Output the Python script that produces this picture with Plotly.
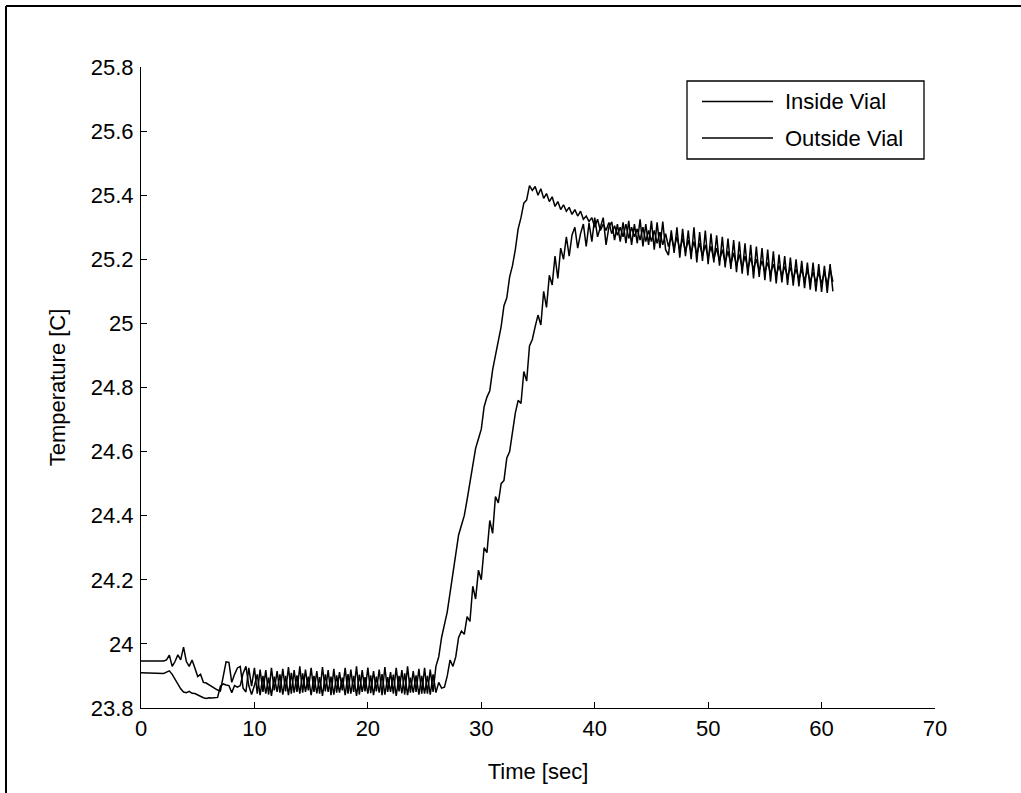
import plotly.graph_objects as go

# sampled every 0.25 s, starting at t = 0
TIME_STEP = 0.25

inside_vial = [
    # 0 - 4.75 s
    23.947, 23.947, 23.947, 23.947, 23.947, 23.947, 23.947, 23.947, 23.947, 23.950,
    23.965, 23.930, 23.945, 23.966, 23.950, 23.990, 23.945, 23.930, 23.950, 23.925,
    # 5 - 9.75 s
    23.898, 23.905, 23.880, 23.878, 23.872, 23.868, 23.862, 23.856, 23.853, 23.905,
    23.944, 23.942, 23.880, 23.905, 23.925, 23.930, 23.862, 23.850, 23.925, 23.868,
    # 10 - 14.75 s
    23.925, 23.845, 23.920, 23.850, 23.918, 23.842, 23.925, 23.855, 23.915, 23.848,
    23.922, 23.852, 23.928, 23.845, 23.918, 23.850, 23.930, 23.848, 23.920, 23.855,
    # 15 - 19.75 s
    23.925, 23.850, 23.915, 23.845, 23.928, 23.852, 23.918, 23.840, 23.922, 23.848,
    23.912, 23.855, 23.925, 23.845, 23.920, 23.850, 23.930, 23.842, 23.918, 23.852,
    # 20 - 24.75 s
    23.926, 23.846, 23.915, 23.852, 23.920, 23.840, 23.928, 23.850, 23.912, 23.845,
    23.925, 23.852, 23.918, 23.842, 23.930, 23.848, 23.915, 23.850, 23.922, 23.845,
    # 25 - 29.75 s
    23.925, 23.845, 23.920, 23.850, 23.930, 23.960, 24.020, 24.060, 24.100, 24.160,
    24.220, 24.270, 24.340, 24.370, 24.400, 24.450, 24.500, 24.560, 24.610, 24.640,
    # 30 - 34.75 s
    24.670, 24.740, 24.770, 24.790, 24.855, 24.900, 24.940, 24.990, 25.055, 25.080,
    25.145, 25.180, 25.230, 25.295, 25.330, 25.375, 25.385, 25.430, 25.415, 25.427,
    # 35 - 39.75 s
    25.400, 25.420, 25.390, 25.405, 25.380, 25.395, 25.365, 25.380, 25.355, 25.370,
    25.350, 25.362, 25.340, 25.355, 25.335, 25.350, 25.325, 25.335, 25.318, 25.330,
    # 40 - 44.75 s
    25.300, 25.325, 25.290, 25.310, 25.290, 25.315, 25.280, 25.305, 25.275, 25.300,
    25.270, 25.310, 25.265, 25.300, 25.270, 25.295, 25.260, 25.300, 25.255, 25.290,
    # 45 - 49.75 s
    25.255, 25.290, 25.250, 25.285, 25.245, 25.280, 25.240, 25.270, 25.235, 25.270,
    25.230, 25.265, 25.225, 25.260, 25.220, 25.255, 25.215, 25.250, 25.210, 25.245,
    # 50 - 54.75 s
    25.205, 25.240, 25.200, 25.235, 25.195, 25.230, 25.190, 25.225, 25.185, 25.220,
    25.180, 25.215, 25.175, 25.210, 25.170, 25.205, 25.168, 25.200, 25.165, 25.195,
    # 55 - 59.75 s
    25.160, 25.190, 25.155, 25.185, 25.150, 25.180, 25.148, 25.178, 25.145, 25.175,
    25.140, 25.170, 25.138, 25.168, 25.135, 25.165, 25.130, 25.160, 25.128, 25.158,
    # 60 - 61 s
    25.125, 25.160, 25.120, 25.170, 25.130,
]

outside_vial = [
    # 0 - 4.75 s
    23.910, 23.910, 23.910, 23.910, 23.910, 23.910, 23.910, 23.910, 23.908, 23.912,
    23.916, 23.905, 23.890, 23.875, 23.860, 23.850, 23.848, 23.852, 23.846, 23.845,
    # 5 - 9.75 s
    23.840, 23.836, 23.832, 23.830, 23.832, 23.831, 23.832, 23.833, 23.868, 23.875,
    23.872, 23.870, 23.848, 23.870, 23.865, 23.870, 23.908, 23.930, 23.870, 23.842,
    # 10 - 14.75 s
    23.870, 23.905, 23.840, 23.900, 23.845, 23.895, 23.838, 23.898, 23.850, 23.905,
    23.842, 23.900, 23.840, 23.910, 23.848, 23.902, 23.845, 23.908, 23.850, 23.898,
    # 15 - 19.75 s
    23.840, 23.900, 23.846, 23.896, 23.838, 23.905, 23.850, 23.898, 23.842, 23.902,
    23.848, 23.895, 23.840, 23.906, 23.845, 23.900, 23.838, 23.904, 23.850, 23.896,
    # 20 - 24.75 s
    23.845, 23.902, 23.840, 23.898, 23.848, 23.906, 23.842, 23.896, 23.850, 23.904,
    23.838, 23.900, 23.846, 23.908, 23.840, 23.895, 23.848, 23.902, 23.842, 23.900,
    # 25 - 29.75 s
    23.845, 23.900, 23.842, 23.905, 23.848, 23.880, 23.862, 23.865, 23.900, 23.950,
    23.930, 23.960, 24.020, 24.040, 24.030, 24.085, 24.070, 24.180, 24.140, 24.230,
    # 30 - 34.75 s
    24.200, 24.300, 24.285, 24.385, 24.345, 24.460, 24.440, 24.500, 24.510, 24.580,
    24.600, 24.660, 24.720, 24.760, 24.750, 24.850, 24.820, 24.930, 24.950, 24.990,
    # 35 - 39.75 s
    25.026, 24.995, 25.100, 25.050, 25.150, 25.120, 25.210, 25.140, 25.235, 25.200,
    25.270, 25.210, 25.276, 25.300, 25.235, 25.280, 25.310, 25.240, 25.313, 25.255,
    # 40 - 44.75 s
    25.330, 25.270, 25.300, 25.330, 25.245, 25.300, 25.317, 25.260, 25.310, 25.255,
    25.315, 25.250, 25.320, 25.245, 25.310, 25.250, 25.325, 25.240, 25.310, 25.245,
    # 45 - 49.75 s
    25.320, 25.230, 25.315, 25.235, 25.318, 25.230, 25.213, 25.290, 25.220, 25.300,
    25.205, 25.295, 25.210, 25.290, 25.200, 25.300, 25.190, 25.285, 25.195, 25.290,
    # 50 - 54.75 s
    25.185, 25.280, 25.190, 25.275, 25.180, 25.270, 25.175, 25.265, 25.170, 25.260,
    25.160, 25.255, 25.155, 25.250, 25.150, 25.245, 25.140, 25.240, 25.145, 25.235,
    # 55 - 59.75 s
    25.135, 25.230, 25.130, 25.225, 25.125, 25.215, 25.128, 25.210, 25.120, 25.205,
    25.118, 25.200, 25.115, 25.195, 25.110, 25.190, 25.105, 25.190, 25.100, 25.185,
    # 60 - 61 s
    25.098, 25.180, 25.095, 25.185, 25.100,
]

x_ticks = [0, 10, 20, 30, 40, 50, 60, 70]
y_ticks = [23.8, 24.0, 24.2, 24.4, 24.6, 24.8, 25.0, 25.2, 25.4, 25.6, 25.8]
y_tick_text = ["23.8", "24", "24.2", "24.4", "24.6", "24.8", "25", "25.2", "25.4", "25.6", "25.8"]
series_names = ["Inside Vial", "Outside Vial"]

# page geometry (pixels); body margin is removed in post_script below
W, H = 1021, 793
L, T = 141, 67
PW, PH = 794, 641
R, B = W - L - PW, H - T - PH


def paper(xp, yp):
    # page pixel position -> paper coordinates
    return (xp - L) / PW, (T + PH - yp) / PH


FONT = "Arial, 'Liberation Sans', Helvetica, sans-serif"

time = [round(i * TIME_STEP, 2) for i in range(len(inside_vial))]

fig = go.Figure()
for name, vals in zip(series_names, [inside_vial, outside_vial]):
    fig.add_trace(go.Scatter(
        x=time, y=vals, mode="lines", name=name, showlegend=False,
        line=dict(color="black", width=1.5),
    ))

axis_common = dict(
    showline=True, linecolor="black", linewidth=1,
    ticks="inside", ticklen=6, tickcolor="black",
    showgrid=False, zeroline=False, mirror=False,
    tickfont=dict(family=FONT, size=22, color="black"),
)

fig.update_xaxes(
    range=[0, 70], tickvals=x_ticks, ticklabelstandoff=1,
    title=dict(text="Time [sec]", font=dict(family=FONT, size=22, color="black"), standoff=23),
    **axis_common,
)
fig.update_yaxes(
    range=[23.8, 25.8], tickvals=y_ticks, ticktext=y_tick_text, ticklabelstandoff=2,
    title=dict(text="Temperature [C]", font=dict(family=FONT, size=22, color="black"), standoff=19),
    **axis_common,
)

# outer figure frame: only its left and top edges fall inside the page
fx0, fy0 = paper(6, 6)
fx1, fy1 = paper(W, H)
frame = dict(color="black", width=2)
shapes = [
    dict(type="line", xref="paper", yref="paper", x0=fx0, x1=fx1, y0=fy0, y1=fy0, line=frame),
    dict(type="line", xref="paper", yref="paper", x0=fx0, x1=fx0, y0=fy0, y1=fy1, line=frame),
]

# legend box drawn by hand to get the long MATLAB-style sample lines
bx0, by0 = paper(687, 81)
bx1, by1 = paper(924, 159)
shapes.append(dict(type="rect", xref="paper", yref="paper", x0=bx0, y0=by1, x1=bx1, y1=by0,
                   line=dict(color="black", width=1.3), fillcolor="white"))
annotations = []
for name, row_y in zip(series_names, [101.5, 138]):
    lx0, ly = paper(702, row_y)
    lx1, _ = paper(773, row_y)
    shapes.append(dict(type="line", xref="paper", yref="paper", x0=lx0, x1=lx1, y0=ly, y1=ly,
                       line=dict(color="black", width=1.3)))
    tx, _ = paper(783, row_y)
    annotations.append(dict(text=name, x=tx, y=ly, xref="paper", yref="paper", showarrow=False,
                            xanchor="left", yanchor="middle",
                            font=dict(family=FONT, size=22, color="black")))

fig.update_layout(
    width=W, height=H,
    margin=dict(l=L, r=R, t=T, b=B, pad=0),
    paper_bgcolor="white", plot_bgcolor="white",
    shapes=shapes, annotations=annotations,
    showlegend=False,
)

fig.write_html("out.html", config={"displayModeBar": False},
               post_script="document.body.style.margin = '0';")
